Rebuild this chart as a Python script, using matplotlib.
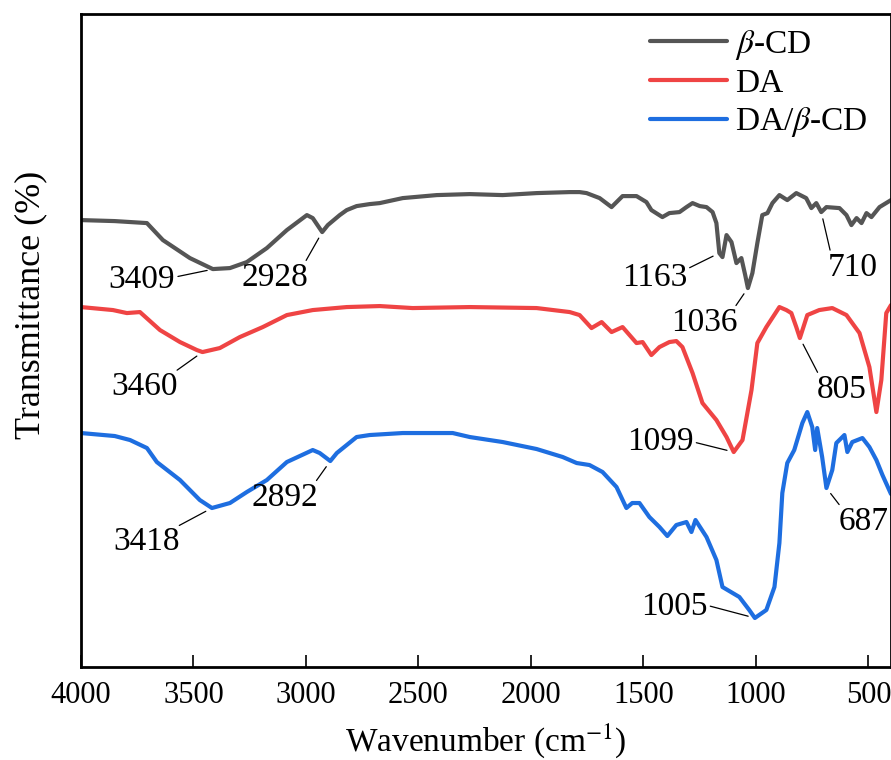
import numpy as np
import matplotlib
matplotlib.use('Agg')
import matplotlib.pyplot as plt

plt.rcParams['font.family'] = ['Liberation Serif', 'DejaVu Serif']
plt.rcParams['mathtext.fontset'] = 'stix'

# FTIR spectra (wavenumber in cm-1, transmittance in offset a.u.)
cd_wn = [4000, 3850, 3707, 3636, 3516, 3414, 3338, 3263, 3174, 3085, 2996, 2970, 2928, 2903,
         2850, 2819, 2775, 2717, 2672, 2570, 2419, 2272, 2126, 1975, 1828, 1784, 1753, 1695,
         1642, 1593, 1531, 1487, 1465, 1416, 1385, 1340, 1309, 1282, 1250, 1220, 1193, 1176,
         1163, 1149, 1131, 1109, 1087, 1065, 1048, 1036, 1016, 994, 972, 949, 927, 896, 861,
         821, 777, 754, 732, 710, 687, 629, 598, 576, 553, 531, 509, 487, 451, 400]
cd_t = [480, 479, 477, 460, 442, 431, 432, 438, 452, 470, 485, 482, 468, 475,
        485, 490, 494, 496, 497, 502, 505, 506, 505, 507, 508, 508, 507, 502,
        493, 504, 504, 498, 490, 483, 487, 488, 493, 497, 494, 493, 488, 477,
        447, 443, 465, 458, 437, 442, 425, 412, 427, 457, 485, 487, 497, 505, 500,
        507, 502, 492, 497, 488, 493, 492, 485, 475, 482, 477, 487, 483, 493, 500]

da_wn = [4000, 3858, 3796, 3738, 3649, 3560, 3485, 3460, 3383, 3294, 3192, 3085, 2970, 2819,
         2672, 2526, 2272, 1975, 1828, 1784, 1731, 1686, 1642, 1593, 1531, 1504, 1465, 1429,
         1385, 1354, 1327, 1282, 1238, 1176, 1131, 1099, 1060, 1020, 994, 954, 896, 865, 843,
         821, 805, 772, 719, 661, 598, 540, 496, 465, 443, 421, 400]
da_t = [393, 390, 387, 388, 370, 358, 350, 348, 352, 363, 373, 385, 390, 393,
        394, 392, 393, 392, 388, 385, 372, 378, 368, 373, 357, 358, 345, 353,
        358, 359, 353, 327, 297, 280, 263, 248, 260, 310, 357, 373, 393, 390, 387,
        373, 362, 385, 390, 392, 385, 367, 333, 288, 320, 387, 395]

mix_wn = [4000, 3850, 3782, 3707, 3663, 3560, 3472, 3418, 3338, 3263, 3174, 3085, 2970, 2939,
          2892, 2863, 2819, 2775, 2717, 2570, 2348, 2272, 2126, 1975, 1859, 1797, 1740, 1682,
          1620, 1576, 1550, 1518, 1474, 1429, 1394, 1354, 1309, 1287, 1269, 1220, 1176, 1149,
          1074, 1030, 1005, 954, 918, 896, 883, 861, 830, 794, 772, 750, 737, 728, 706, 687,
          661, 643, 607, 594, 572, 527, 496, 465, 438, 400]
mix_t = [267, 264, 260, 252, 238, 220, 200, 192, 197, 208, 220, 238, 250, 247,
         239, 247, 255, 263, 265, 267, 267, 263, 258, 251, 243, 237, 235, 228,
         213, 192, 197, 197, 183, 173, 164, 175, 178, 168, 180, 163, 140, 113,
         103, 90, 82, 90, 113, 157, 207, 237, 250, 277, 288, 273, 250, 272, 243, 212,
         230, 257, 265, 248, 258, 262, 253, 240, 225, 206]

series = [('$\\beta$-CD', cd_wn, cd_t, '#555555'),
          ('DA', da_wn, da_t, '#EF4444'),
          ('DA/$\\beta$-CD', mix_wn, mix_t, '#1E6EE0')]

# peak labels: (series index, wavenumber, text x, text y, anchor on text box)
peaks = [(0, 3409, 3729, 420, (1.0, 0.6)),
         (0, 2928, 3139, 422, (0.95, 1.0)),
         (0, 1163, 1451, 422, (1.0, 0.8)),
         (0, 1036, 1229, 377, (0.95, 1.0)),
         (0, 710, 568, 432, (0.05, 1.0)),
         (1, 3460, 3716, 313, (0.95, 1.0)),
         (1, 1099, 1425, 258, (1.0, 0.5)),
         (1, 805, 621, 310, (0.05, 1.0)),
         (2, 3418, 3707, 158, (0.95, 1.0)),
         (2, 2892, 3094, 202, (0.95, 1.0)),
         (2, 1005, 1363, 93, (1.0, 0.55)),
         (2, 687, 523, 178, (0.05, 1.0))]

fig = plt.figure(figsize=(8.91, 7.6), dpi=100)
ax = fig.add_axes([0.0909, 0.1224, 0.9091, 0.859])

for label, wn, t, color in series:
    ax.plot(wn, t, color=color, lw=3, label=label,
            solid_capstyle='round', solid_joinstyle='round')

for idx, wn0, tx, ty, rel in peaks:
    wn, t = series[idx][1], series[idx][2]
    y0 = np.interp(wn0, wn[::-1], t[::-1])
    ax.annotate(str(wn0), xy=(wn0, y0), xytext=(tx, ty), ha='center', va='center',
                fontsize=24,
                arrowprops=dict(arrowstyle='-', lw=0.9, color='black', relpos=rel,
                                patchA=None, shrinkA=2, shrinkB=5))

ax.set_xlim(4000, 400)
ax.set_ylim(33, 686)
ax.set_xticks([4000, 3500, 3000, 2500, 2000, 1500, 1000, 500])
ax.set_yticks([])
ax.tick_params(axis='x', direction='in', length=9, width=1.2, labelsize=22, pad=10)
for s in ax.spines.values():
    s.set_linewidth(2)

ax.set_xlabel('Wavenumber (cm$^{-1}$)', fontsize=24, labelpad=8)
ax.set_ylabel('Transmittance (%)', fontsize=26)
ax.yaxis.set_label_coords(-0.042, 0.554)

ax.legend(loc='upper right', bbox_to_anchor=(0.996, 1.01), frameon=False, fontsize=24,
          handlelength=2.3, handletextpad=0.25, labelspacing=0.2, borderaxespad=0.2)

fig.savefig('out.png', dpi=100)
